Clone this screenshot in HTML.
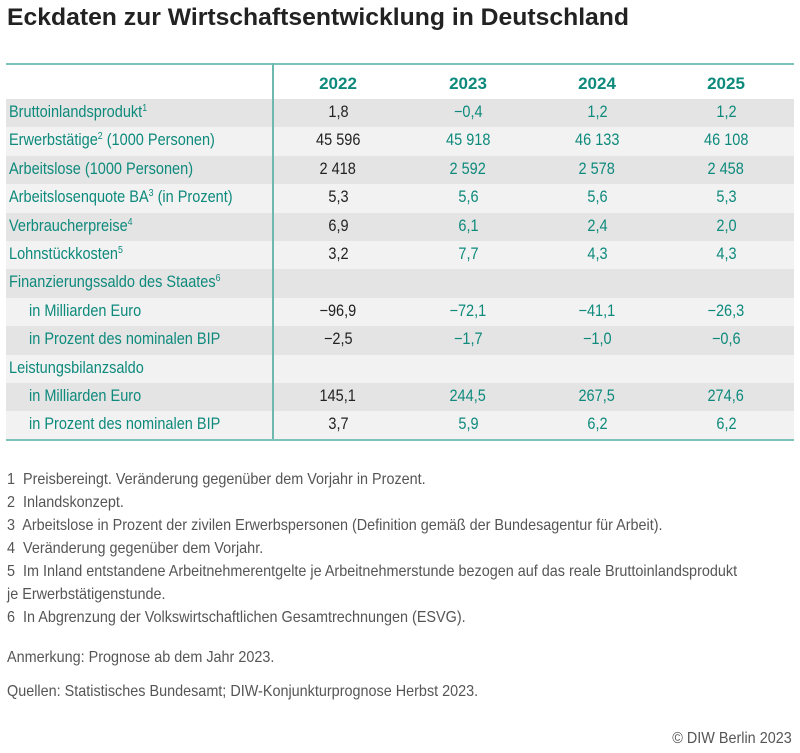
<!DOCTYPE html>
<html><head><meta charset="utf-8">
<style>
body{margin:0;width:800px;height:753px;background:#fff;position:relative;overflow:hidden;font-family:"Liberation Sans",sans-serif;}
.t{position:absolute;white-space:nowrap;}
.sx{display:inline-block;transform:scaleX(.88);transform-origin:left center;}
.sc{display:inline-block;transform:scaleX(.88);transform-origin:center center;}
#title{left:7px;top:4px;font-size:24px;font-weight:bold;color:#222;}
#tbl{position:absolute;left:6px;top:63px;width:788px;}
.row{position:absolute;left:0;width:788px;height:28.4px;}
.lab{position:absolute;top:4px;font-size:16.5px;color:#0e8a7c;}
.num{position:absolute;top:4px;width:100px;text-align:center;font-size:16.5px;}
.hd{position:absolute;top:9px;width:100px;text-align:center;font-size:17px;font-weight:bold;color:#0e8a7c;}
.fn{position:absolute;left:7px;font-size:16px;color:#555;white-space:nowrap;}
.fn .sx{transform:scaleX(.9);}
sup{font-size:10px;vertical-align:6px;}
</style></head><body>
<div class="t" id="title"><span class="sx" style="transform:scaleX(1.03)">Eckdaten zur Wirtschaftsentwicklung in Deutschland</span></div>

<div id="tbl">
  <div style="position:absolute;left:0;top:0;width:788px;height:2px;background:#7cc4bb;"></div>
  <div class="row" style="top:2px;height:34px;">
    <div class="hd" style="left:282px">2022</div>
    <div class="hd" style="left:412px">2023</div>
    <div class="hd" style="left:541px">2024</div>
    <div class="hd" style="left:670px">2025</div>
  </div>
  <div id="rows"></div>
  <div style="position:absolute;left:266px;top:0;width:1.5px;height:377px;background:#6fb8ae;"></div>
  <div style="position:absolute;left:0;top:376px;width:788px;height:2px;background:#7cc4bb;"></div>
</div>

<div class="fn" style="top:471px"><span class="sx">1&nbsp; Preisbereingt. Veränderung gegenüber dem Vorjahr in Prozent.</span></div>
<div class="fn" style="top:494px"><span class="sx">2&nbsp; Inlandskonzept.</span></div>
<div class="fn" style="top:517px"><span class="sx">3&nbsp; Arbeitslose in Prozent der zivilen Erwerbspersonen (Definition gemäß der Bundesagentur für Arbeit).</span></div>
<div class="fn" style="top:540px"><span class="sx">4&nbsp; Veränderung gegenüber dem Vorjahr.</span></div>
<div class="fn" style="top:563px"><span class="sx">5&nbsp; Im Inland entstandene Arbeitnehmerentgelte je Arbeitnehmerstunde bezogen auf das reale Bruttoinlandsprodukt</span></div>
<div class="fn" style="top:586px"><span class="sx">je Erwerbstätigenstunde.</span></div>
<div class="fn" style="top:609px"><span class="sx">6&nbsp; In Abgrenzung der Volkswirtschaftlichen Gesamtrechnungen (ESVG).</span></div>
<div class="fn" style="top:649px"><span class="sx">Anmerkung: Prognose ab dem Jahr 2023.</span></div>
<div class="fn" style="top:683px"><span class="sx">Quellen: Statistisches Bundesamt; DIW-Konjunkturprognose Herbst 2023.</span></div>
<div class="fn" style="top:730px;left:auto;right:8px;"><span class="sx" style="transform-origin:right center">© DIW Berlin 2023</span></div>

<script>
const labels=["Bruttoinlandsprodukt<sup>1</sup>","Erwerbstätige<sup>2</sup> (1000 Personen)","Arbeitslose (1000 Personen)","Arbeitslosenquote BA<sup>3</sup> (in Prozent)","Verbraucherpreise<sup>4</sup>","Lohnstückkosten<sup>5</sup>","Finanzierungssaldo des Staates<sup>6</sup>","in Milliarden Euro","in Prozent des nominalen BIP","Leistungsbilanzsaldo","in Milliarden Euro","in Prozent des nominalen BIP"];
const indent=[0,0,0,0,0,0,0,1,1,0,1,1];
const v2022=["1,8","45 596","2 418","5,3","6,9","3,2","","−96,9","−2,5","","145,1","3,7"];
const v2023=["−0,4","45 918","2 592","5,6","6,1","7,7","","−72,1","−1,7","","244,5","5,9"];
const v2024=["1,2","46 133","2 578","5,6","2,4","4,3","","−41,1","−1,0","","267,5","6,2"];
const v2025=["1,2","46 108","2 458","5,3","2,0","4,3","","−26,3","−0,6","","274,6","6,2"];
const cols=[[v2022,282,"#222"],[v2023,412,"#0e8a7c"],[v2024,541,"#0e8a7c"],[v2025,670,"#0e8a7c"]];
const host=document.getElementById('rows');
labels.forEach((lab,i)=>{
  const r=document.createElement('div');
  r.className='row';
  r.style.top=(36+i*28.4)+'px';
  r.style.background=i%2===0?'#e4e4e4':'#f2f2f2';
  
  
  const l=document.createElement('div');
  l.className='lab';
  l.style.left=(indent[i]?23:3)+'px';
  l.innerHTML='<span class="sx">'+lab+'</span>';
  
  
  r.appendChild(l);
  cols.forEach(c=>{
    const n=document.createElement('div');
    n.className='num';
    n.style.left=c[1]+'px';
    n.style.color=c[2];
    n.innerHTML='<span class="sc">'+c[0][i]+'</span>';
    
    
    r.appendChild(n);
  });
  host.appendChild(r);
});
</script>
</body></html>
